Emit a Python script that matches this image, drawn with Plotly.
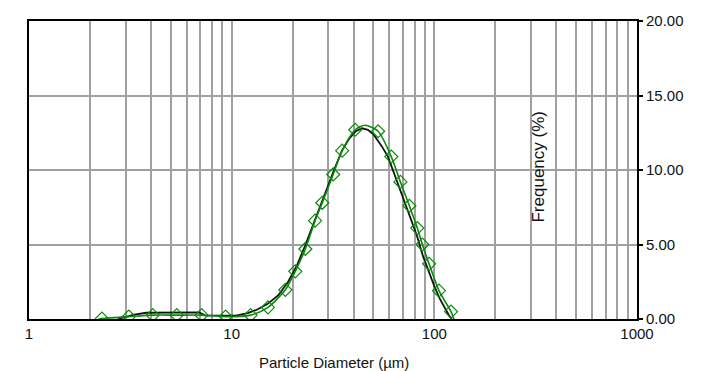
import plotly.graph_objects as go

# ---- data ----
green_marker_d = [2.29, 3.11, 4.08, 5.36, 7.11, 9.34, 12.4, 15.1, 18.4, 20.6, 23.1, 25.8, 28.0,
                  31.7, 35.1, 40.7, 52.8, 61.3, 68.0, 75.3, 82.4, 87.3, 94.2, 105.4, 120.8]
green_marker_v = [0.03, 0.16, 0.26, 0.26, 0.26, 0.16, 0.26, 0.78, 1.96, 3.2, 4.7, 6.6, 7.8,
                  9.7, 11.3, 12.7, 12.6, 10.9, 9.2, 7.6, 6.1, 5.0, 3.7, 1.9, 0.5]

green_line_d = [2.2, 2.29, 3.11, 4.08, 5.36, 7.11, 9.34, 12.4, 15.1, 18.4, 20.6, 23.1, 25.8, 28.0,
                31.7, 35.1, 40.7, 45.5, 52.8, 61.3, 68.0, 75.3, 82.4, 87.3, 94.2, 105.4, 120.8, 125.0]
green_line_v = [0.0, 0.03, 0.16, 0.26, 0.26, 0.26, 0.16, 0.26, 0.78, 1.96, 3.2, 4.7, 6.6, 7.8,
                9.7, 11.3, 12.7, 13.0, 12.6, 10.9, 9.2, 7.6, 6.1, 5.0, 3.7, 1.9, 0.5, 0.0]

black_d = [2.75, 3.3, 3.8, 5.0, 6.9, 7.4, 10.5, 12.0, 13.3, 15, 17, 19, 21, 23, 25, 27, 29, 32,
           35, 38, 41, 44, 47, 50, 55, 59, 64, 70, 76, 82, 88, 94, 100, 106, 112, 118, 122]
black_v = [0.0, 0.3, 0.42, 0.44, 0.44, 0.24, 0.22, 0.4, 0.62, 1.0, 1.6, 2.5, 3.6, 4.9, 6.2, 7.4, 8.5, 10.0,
           11.3, 12.1, 12.6, 12.8, 12.7, 12.4, 11.6, 10.9, 9.6, 8.2, 6.9, 5.6, 4.2, 3.1, 2.2, 1.4, 0.8, 0.25, 0.0]

x_major = [1, 10, 100, 1000]
x_major_text = ["1", "10", "100", "1000"]
x_minor = [m * 10 ** e for e in range(3) for m in range(2, 10)]
y_ticks = [0, 5, 10, 15, 20]
y_tick_text = ["0.00", "5.00", "10.00", "15.00", "20.00"]

FONT = "Arial, Liberation Sans, sans-serif"
GRID = "#a0a0a0"

fig = go.Figure()
fig.add_trace(go.Scatter(x=black_d, y=black_v, mode="lines",
                         line=dict(color="#111111", width=1.8), hoverinfo="skip"))
fig.add_trace(go.Scatter(x=green_line_d, y=green_line_v, mode="lines",
                         line=dict(color="#0a8a0a", width=1.6, shape="spline", smoothing=0.7),
                         hoverinfo="skip"))
fig.add_trace(go.Scatter(x=green_marker_d, y=green_marker_v, mode="markers",
                         marker=dict(symbol="diamond-open", size=10, color="#0a8a0a",
                                     line=dict(width=1.2, color="#0a8a0a"))))

fig.update_layout(
    width=707, height=371,
    margin=dict(l=29, r=70, t=13, b=52),
    paper_bgcolor="white", plot_bgcolor="white",
    showlegend=False,
    font=dict(family=FONT, size=15, color="#111111"),
    xaxis=dict(type="log", range=[0, 3], tickmode="array", tickvals=x_major, ticktext=x_major_text,
               showgrid=True, gridcolor=GRID, gridwidth=2,
               minor=dict(tickmode="array", tickvals=x_minor, showgrid=True, gridcolor=GRID,
                          gridwidth=2, ticks=""),
               showline=True, linecolor="black", linewidth=2, mirror=True,
               ticks="", zeroline=False, tickfont=dict(size=15)),
    yaxis=dict(range=[0, 20], side="right", tickmode="array", tickvals=y_ticks, ticktext=y_tick_text,
               showgrid=True, gridcolor=GRID, gridwidth=2,
               showline=True, linecolor="black", linewidth=2, mirror=True,
               ticks="outside", ticklen=4, tickcolor="black", tickwidth=1.5,
               zeroline=False, tickfont=dict(size=15)),
    annotations=[
        dict(text="Particle Diameter (µm)", x=0.502, xref="paper", y=-0.145, yref="paper",
             xanchor="center", yanchor="middle", showarrow=False, font=dict(size=15)),
        dict(text="Frequency (%)", x=0.838, xref="paper", y=0.51, yref="paper",
             xanchor="center", yanchor="middle", textangle=-90, showarrow=False,
             font=dict(size=17)),
    ],
)

fig.write_html("out.html")
